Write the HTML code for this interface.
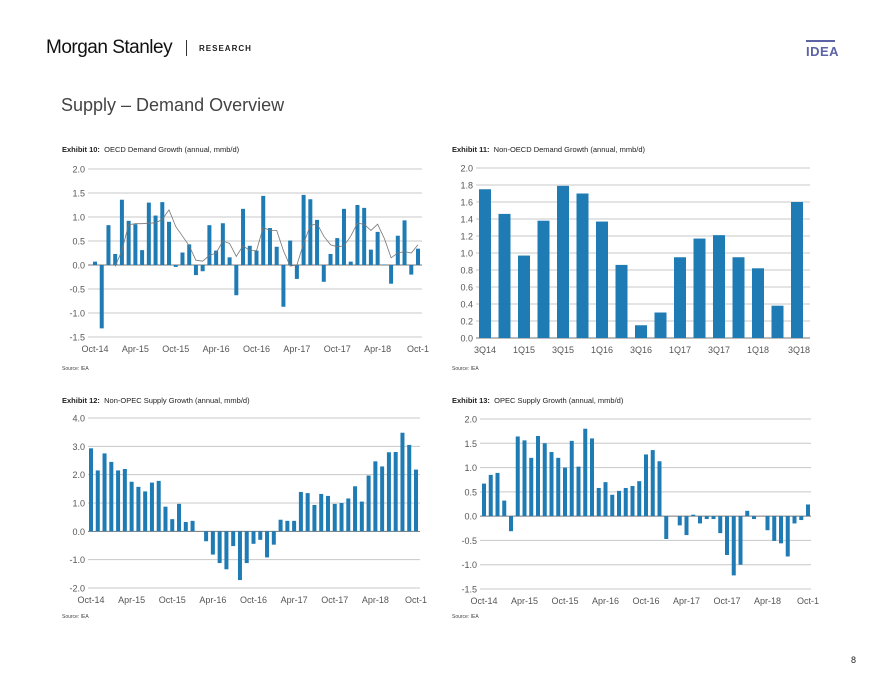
<!DOCTYPE html>
<html><head><meta charset="utf-8">
<style>
body{margin:0;width:880px;height:680px;background:#fff;font-family:"Liberation Sans",sans-serif;position:relative;overflow:hidden}
.abs{position:absolute;white-space:nowrap}
svg text{font-family:"Liberation Sans",sans-serif}
</style></head><body>
<div class="abs" style="left:46px;top:37px;font-size:19px;color:#111;letter-spacing:-0.5px">Morgan Stanley</div>
<div class="abs" style="left:186px;top:40px;width:1px;height:16px;background:#333"></div>
<div class="abs" style="left:199px;top:44px;font-size:8px;font-weight:bold;letter-spacing:1px;color:#222">RESEARCH</div>
<div class="abs" style="left:806px;top:40px;width:29px;height:2px;background:#5b63a6"></div>
<div class="abs" style="left:806px;top:44px;font-size:13px;font-weight:bold;color:#5b63a6;letter-spacing:0.5px">IDEA</div>
<div class="abs" style="left:61px;top:95px;font-size:18px;color:#444">Supply – Demand Overview</div>
<div class="abs" style="left:851px;top:655px;font-size:9px;color:#222">8</div>

<div class="abs" style="left:62px;top:145px;font-size:7.5px;color:#222"><b>Exhibit 10:</b>&nbsp; OECD Demand Growth (annual, mmb/d)</div>
<div class="abs" style="left:452px;top:145px;font-size:7.5px;color:#222"><b>Exhibit 11:</b>&nbsp; Non-OECD Demand Growth (annual, mmb/d)</div>
<div class="abs" style="left:62px;top:396px;font-size:7.5px;color:#222"><b>Exhibit 12:</b>&nbsp; Non-OPEC Supply Growth (annual, mmb/d)</div>
<div class="abs" style="left:452px;top:396px;font-size:7.5px;color:#222"><b>Exhibit 13:</b>&nbsp; OPEC Supply Growth (annual, mmb/d)</div>
<div class="abs" style="left:62px;top:366px;font-size:5px;color:#444">Source: IEA</div>
<div class="abs" style="left:452px;top:366px;font-size:5px;color:#444">Source: IEA</div>
<div class="abs" style="left:62px;top:614px;font-size:5px;color:#444">Source: IEA</div>
<div class="abs" style="left:452px;top:614px;font-size:5px;color:#444">Source: IEA</div>

<svg id="svg" width="880" height="680" style="position:absolute;left:0;top:0"></svg>
<script>
const monthLabels=["Oct-14","Apr-15","Oct-15","Apr-16","Oct-16","Apr-17","Oct-17","Apr-18","Oct-1"];
const oecdValues=[0.07,-1.32,0.83,0.23,1.36,0.92,0.85,0.31,1.30,1.03,1.31,0.90,-0.04,0.26,0.43,-0.21,-0.13,0.83,0.30,0.87,0.16,-0.63,1.17,0.40,0.30,1.44,0.77,0.38,-0.87,0.51,-0.29,1.46,1.37,0.94,-0.35,0.23,0.56,1.17,0.07,1.25,1.19,0.32,0.69,0.01,-0.39,0.61,0.93,-0.20,0.34];
const oecdAvg=[null,null,null,-0.03,0.30,0.84,0.86,0.86,0.87,0.88,0.95,1.15,0.80,0.60,0.40,0.10,0.08,0.20,0.25,0.50,0.45,0.18,0.40,0.30,0.30,0.78,0.72,0.72,0.30,-0.02,0.00,0.45,0.82,0.86,0.60,0.42,0.38,0.40,0.60,0.87,0.85,0.72,0.85,0.55,0.15,0.25,0.28,0.25,0.42];
const oecdTicks=[2.0,1.5,1.0,0.5,0.0,-0.5,-1.0,-1.5];
const quarterLabels=["3Q14","1Q15","3Q15","1Q16","3Q16","1Q17","3Q17","1Q18","3Q18"];
const nonOecdValues=[1.75,1.46,0.97,1.38,1.79,1.70,1.37,0.86,0.15,0.30,0.95,1.17,1.21,0.95,0.82,0.38,1.60];
const nonOecdTicks=[2.0,1.8,1.6,1.4,1.2,1.0,0.8,0.6,0.4,0.2,0.0];
const nonOpecValues=[2.93,2.15,2.75,2.45,2.15,2.20,1.75,1.57,1.41,1.72,1.78,0.87,0.43,0.97,0.33,0.37,0,-0.35,-0.82,-1.12,-1.34,-0.52,-1.72,-1.12,-0.44,-0.30,-0.92,-0.47,0.41,0.37,0.37,1.39,1.35,0.93,1.32,1.25,0.97,1.00,1.16,1.59,1.05,1.97,2.47,2.29,2.79,2.80,3.48,3.05,2.18];
const nonOpecTicks=[4.0,3.0,2.0,1.0,0.0,-1.0,-2.0];
const opecValues=[0.67,0.85,0.89,0.32,-0.31,1.64,1.56,1.20,1.65,1.50,1.32,1.20,1.00,1.55,1.02,1.80,1.60,0.58,0.70,0.44,0.52,0.58,0.62,0.72,1.27,1.36,1.13,-0.47,0,-0.19,-0.39,0.03,-0.15,-0.06,-0.06,-0.35,-0.80,-1.22,-1.00,0.11,-0.06,0,-0.29,-0.51,-0.56,-0.83,-0.15,-0.08,0.24];
const opecTicks=[2.0,1.5,1.0,0.5,0.0,-0.5,-1.0,-1.5];

const NS="http://www.w3.org/2000/svg";
const svg=document.getElementById('svg');
function mk(tag,attrs){const e=document.createElementNS(NS,tag);for(const k in attrs)e.setAttribute(k,attrs[k]);svg.appendChild(e);return e;}
function chart(id,o,values,ticks,labels,labelEvery,decimals,avg){
  const ymax=ticks[0],ymin=ticks[ticks.length-1];
  const y=v=>o.top+(ymax-v)/(ymax-ymin)*(o.bottom-o.top);
  const n=values.length;
  const x=i=>o.x0+i*(o.x1-o.x0)/(n-1);
  ticks.forEach(t=>{
    const g=mk('line',{x1:o.gl,x2:o.gr,y1:y(t),y2:y(t),stroke:t===0?'#777':'#c8c8c8','stroke-width':1});
    
    
    const tx=mk('text',{x:o.gl-3,y:y(t)+3.5,'text-anchor':'end','font-size':9,fill:'#555'});
    tx.textContent=t.toFixed(decimals);
    
    
  });
  values.forEach((v,i)=>{
    const r=mk('rect',{x:x(i)-o.bw/2,y:Math.min(y(v),y(0)),width:o.bw,height:Math.max(Math.abs(y(v)-y(0)),0),fill:'#1f7bb4'});
    
    
  });
  if(avg){
    let d='';avg.forEach((v,i)=>{if(v===null)return;d+=(d?'L':'M')+x(i).toFixed(1)+','+y(v).toFixed(1);});
    const p=mk('path',{d:d,fill:'none',stroke:'#777','stroke-width':0.8});
    
    
  }
  labels.forEach((l,k)=>{
    const i=k*labelEvery;
    const tx=mk('text',{x:x(i)+(k===labels.length-1&&l.length<5?2:0),y:o.bottom+15,'text-anchor':'middle','font-size':9,fill:'#555'});
    tx.textContent=l;
    
    
  });
}
chart('oecd',{top:169,bottom:337,gl:88,gr:422,x0:95,x1:418,bw:4},oecdValues,oecdTicks,monthLabels,6,1,oecdAvg);
chart('non-oecd',{top:168,bottom:338,gl:476,gr:810,x0:485,x1:797,bw:12},nonOecdValues,nonOecdTicks,quarterLabels,2,1,null);
chart('non-opec',{top:418,bottom:588,gl:88,gr:420,x0:91,x1:416,bw:4},nonOpecValues,nonOpecTicks,monthLabels,6,1,null);
chart('opec',{top:419,bottom:589,gl:480,gr:811,x0:484,x1:808,bw:4},opecValues,opecTicks,monthLabels,6,1,null);
</script>
</body></html>
